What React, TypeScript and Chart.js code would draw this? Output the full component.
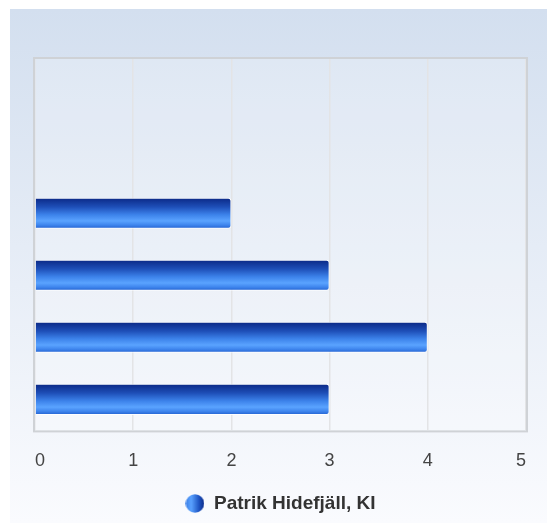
import React, { useEffect, useRef } from "react";
import { Chart, registerables } from "chart.js";

Chart.register(...registerables);

const categories = ["Kategori 1", "Kategori 2", "Kategori 3", "Kategori 4", "Kategori 5", "Kategori 6"];
const seriesName = "Patrik Hidefjäll, KI";
const seriesValues: (number | null)[] = [null, null, 2, 3, 4, 3];
const xTicks = [0, 1, 2, 3, 4, 5];

const FONT = '"Liberation Sans", Arial, Helvetica, sans-serif';

function makeMarker(): HTMLCanvasElement {
  const c = document.createElement("canvas");
  c.width = 19;
  c.height = 19;
  const g = c.getContext("2d")!;
  const grad = g.createLinearGradient(0, 0, 19, 0);
  grad.addColorStop(0, "#3a7ee6");
  grad.addColorStop(0.3, "#5aa2ff");
  grad.addColorStop(0.7, "#1f56c4");
  grad.addColorStop(1, "#0b2a86");
  g.fillStyle = grad;
  g.beginPath();
  g.arc(9.5, 9.5, 9.3, 0, Math.PI * 2);
  g.fill();
  return c;
}

const plotFrame = {
  id: "plotFrame",
  beforeDatasetsDraw(chart: any) {
    const { ctx, chartArea: a } = chart;
    ctx.save();
    ctx.strokeStyle = "#cfd2d6";
    ctx.lineWidth = 2;
    ctx.strokeRect(a.left - 1, a.top, a.right - a.left + 2, a.bottom - a.top + 1);
    ctx.restore();
  },
  beforeDraw(chart: any) {
    const { ctx, chartArea: a } = chart;
    ctx.save();
    ctx.fillStyle = "rgba(255,255,255,0.22)";
    ctx.fillRect(a.left, a.top, a.right - a.left, a.bottom - a.top);
    ctx.restore();
  },
};

export default function App() {
  const ref = useRef<HTMLCanvasElement | null>(null);

  useEffect(() => {
    if (!ref.current) return;
    const marker = makeMarker();
    const chart = new Chart(ref.current, {
      type: "bar",
      data: {
        labels: categories,
        datasets: [
          {
            label: seriesName,
            data: seriesValues as any,
            backgroundColor: (c: any) => {
              const chart = c.chart;
              const y = chart.scales?.y;
              if (!y || c.dataIndex === undefined) return "#2a62d0";
              const py = y.getPixelForValue(c.dataIndex);
              const h = 15.5;
              const g = chart.ctx.createLinearGradient(0, py - h, 0, py + h);
              g.addColorStop(0, "#0a2784");
              g.addColorStop(0.3, "#1e4fb8");
              g.addColorStop(0.55, "#3c82ea");
              g.addColorStop(0.75, "#5aa3ff");
              g.addColorStop(0.88, "#3f86ee");
              g.addColorStop(1, "#2260cf");
              return g;
            },
            borderColor: "rgba(255,255,255,0.85)",
            borderWidth: 1,
            borderSkipped: "start",
            borderRadius: 3,
            barPercentage: 0.5,
            categoryPercentage: 1,
          },
        ],
      },
      options: {
        indexAxis: "y",
        animation: false,
        responsive: false,
        devicePixelRatio: 1,
        layout: { padding: { left: 25, right: 21, top: 49, bottom: 0 } },
        scales: {
          x: {
            min: 0,
            max: 5,
            grid: { color: "#e3e4e6", lineWidth: 1.5, drawTicks: false },
            border: { display: false },
            afterBuildTicks: (s: any) => {
              s.ticks = xTicks.map((v) => ({ value: v }));
            },
            ticks: {
              align: "inner",
              padding: 20,
              color: "#444444",
              font: { family: FONT, size: 18 },
            },
          },
          y: {
            display: false,
            grid: { display: false },
          },
        },
        plugins: {
          legend: {
            position: "bottom",
            labels: {
              usePointStyle: true,
              padding: 2,
              color: "#333333",
              font: { family: FONT, size: 19, weight: "bold" },
              generateLabels: () => [
                {
                  text: seriesName,
                  pointStyle: marker as any,
                  fillStyle: "#2a62d0",
                  strokeStyle: "transparent",
                  lineWidth: 0,
                  hidden: false,
                  datasetIndex: 0,
                  fontColor: "#333333",
                } as any,
              ],
            },
          },
          tooltip: { enabled: false },
        },
      },
      plugins: [plotFrame],
    });
    return () => chart.destroy();
  }, []);

  return (
    <div
      style={{
        position: "absolute",
        left: 10,
        top: 9,
        width: 537,
        height: 514,
        background: "linear-gradient(to bottom, rgb(211,223,239) 0%, rgb(250,251,254) 100%)",
      }}
    >
      <canvas ref={ref} width={537} height={514} style={{ display: "block" }} />
    </div>
  );
}
